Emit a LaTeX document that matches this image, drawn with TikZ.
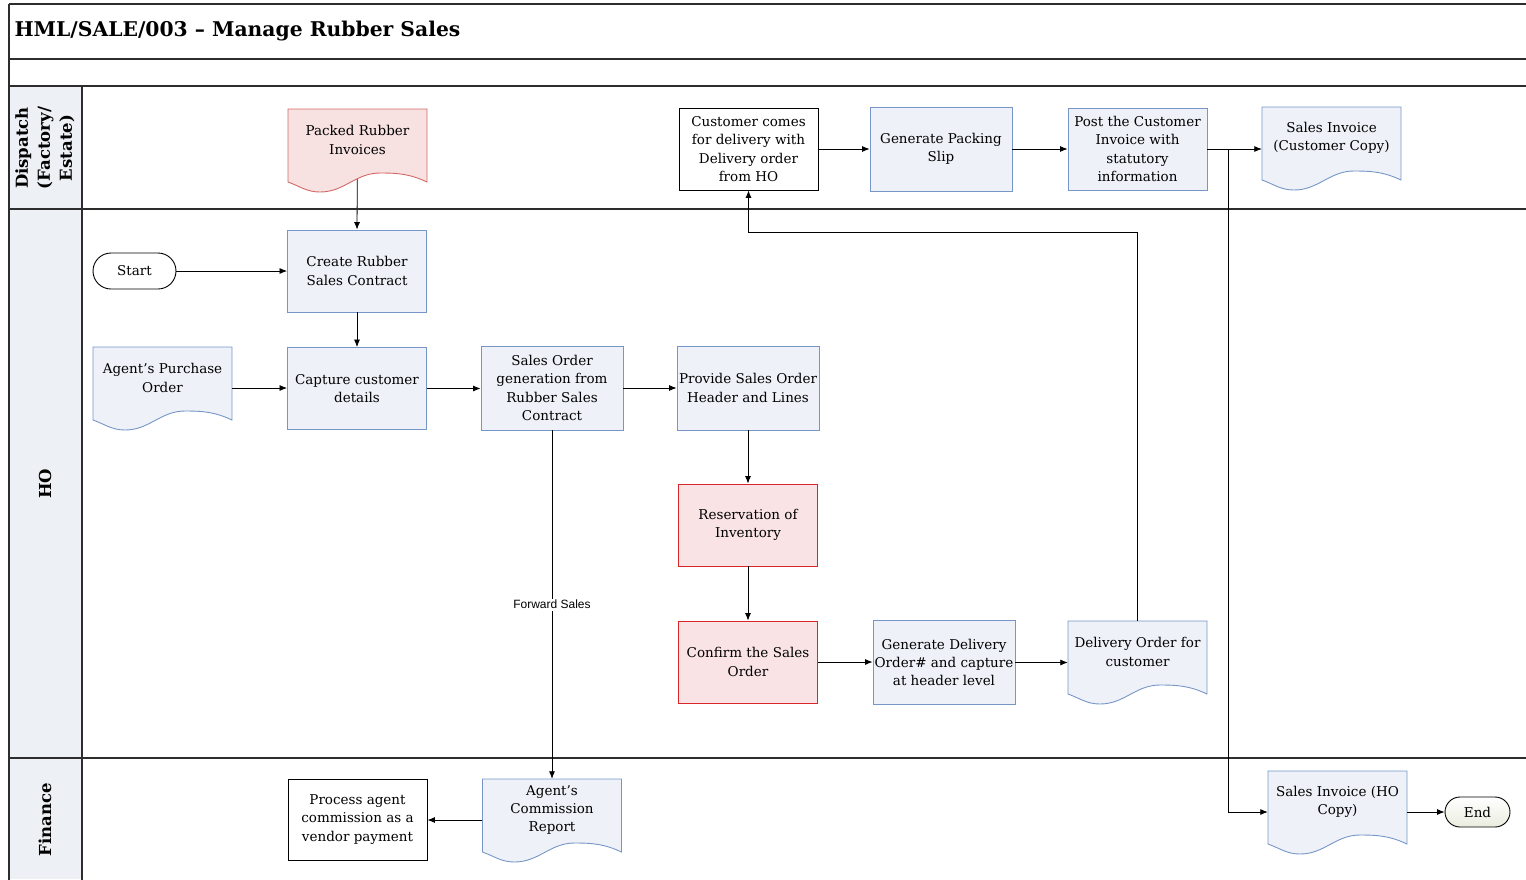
\documentclass[tikz,border=0pt]{standalone}
\usepackage{fontspec}
\setmainfont{DejaVu Serif}
\newfontfamily\labelsans{Liberation Sans}
\usetikzlibrary{arrows.meta,calc}
\pgfdeclarelayer{bg}
\pgfsetlayers{bg,main}

\definecolor{bluefill}{RGB}{238,242,248}
\definecolor{blueedge}{RGB}{118,150,200}
\definecolor{redfill}{RGB}{249,227,229}
\definecolor{rededge}{RGB}{218,38,42}
\definecolor{pinkfill}{RGB}{247,225,225}
\definecolor{pinkedge}{RGB}{212,104,104}
\definecolor{lanefill}{RGB}{237,240,245}
\definecolor{frameline}{RGB}{45,45,45}
\definecolor{endfill}{RGB}{234,236,222}

\tikzset{
  every node/.style={font=\fontsize{13.5}{18.3}\selectfont, align=center},
  box/.style={rectangle, inner sep=1pt, minimum width=139pt, minimum height=82pt, line width=0.9pt},
  bluebox/.style={box, draw=blueedge, fill=bluefill},
  redbox/.style={box, draw=rededge, fill=redfill},
  plainbox/.style={box, draw=black, fill=white},
  docframe/.style={rectangle, inner sep=0pt, minimum width=139pt, minimum height=82pt},
  doctext/.style={inner sep=0pt},
  bluedoc/.style={draw=blueedge, fill=bluefill, line width=0.9pt},
  pinkdoc/.style={draw=pinkedge, fill=pinkfill, line width=0.9pt},
  terminal/.style={rectangle, draw=black, line width=0.9pt, inner sep=1pt},
  lanetitle/.style={rotate=90, font=\bfseries\fontsize{16.5}{22}\selectfont},
  lanerule/.style={draw=frameline, line width=1.2pt},
  conn/.style={draw=black, line width=0.8pt, -{Latex[length=7.5pt,width=6pt]}},
}

% document symbol: rectangle with a wavy lower edge, text in its upper part
\newcommand\docnode[5]{%
  \node[docframe] (#1) at ({#2+69.5},{#3+41}) {};
  \path[#4] (#2,#3) -- ++(139,0) -- ++(0,73)
    to[out=155,in=0] ++(-47,-9)
    to[out=180,in=0] ++(-60,19)
    to[out=180,in=-20] ++(-32,-10) -- cycle;
  \node[doctext] (#1-t) at ({#2+69.5},{#3+31}) {#5};
}

\begin{document}
\begin{tikzpicture}[x=1pt,y=-1pt]
\useasboundingbox (0,0) rectangle (1526,879);

% swimlane frame
\fill[lanefill] (9,86) rectangle (82,879);
\draw[lanerule] (9,4) -- (1527,4);
\draw[lanerule] (9,59) -- (1527,59);
\draw[lanerule] (9,86) -- (1527,86);
\draw[lanerule] (9,209) -- (1527,209);
\draw[lanerule] (9,758) -- (1527,758);
\draw[lanerule] (9,4) -- (9,880);
\draw[lanerule] (82,86) -- (82,880);

\node[anchor=west, font=\bfseries\fontsize{20.3}{22}\selectfont] (title) at (11,31) {HML/SALE/003 – Manage Rubber Sales};

\node[lanetitle] (lanedispatch) at (45,148) {Dispatch\\(Factory/\\Estate)};
\node[lanetitle] (laneho) at (45,484) {HO};
\node[lanetitle] (lanefinance) at (45,820) {Finance};

% Dispatch lane
\docnode{packed}{288}{109}{pinkdoc}{Packed Rubber\\Invoices}
\node[plainbox] (cust) at (748.5,149) {Customer comes\\for delivery with\\Delivery order\\from HO};
\node[bluebox, minimum width=142pt, minimum height=84pt] (genpack) at (941,149) {Generate Packing\\Slip};
\node[bluebox] (post) at (1137.5,149) {Post the Customer\\Invoice with\\statutory\\information};
\docnode{sicc}{1262}{107}{bluedoc}{Sales Invoice\\(Customer Copy)}

% HO lane
\node[terminal, fill=white, rounded corners=18pt, minimum width=83pt, minimum height=36pt] (start) at (134.5,271) {Start};
\node[bluebox] (create) at (357,271) {Create Rubber\\Sales Contract};
\docnode{apo}{93}{347}{bluedoc}{Agent’s Purchase\\Order}
\node[bluebox] (capture) at (357,388.5) {Capture customer\\details};
\node[bluebox, minimum width=142pt, minimum height=84pt] (sogen) at (552,388) {Sales Order\\generation from\\Rubber Sales\\Contract};
\node[bluebox, minimum width=142pt, minimum height=84pt] (provide) at (748,388) {Provide Sales Order\\Header and Lines};
\node[redbox] (reserve) at (748,525) {Reservation of\\Inventory};
\node[redbox] (confirm) at (748,662) {Confirm the Sales\\Order};
\node[bluebox, minimum width=142pt, minimum height=84pt] (gendel) at (944,662.5) {Generate Delivery\\Order\# and capture\\at header level};
\docnode{delord}{1068}{621}{bluedoc}{Delivery Order for\\customer}

% Finance lane
\node[plainbox, minimum height=81pt] (process) at (357.5,819.5) {Process agent\\commission as a\\vendor payment};
\docnode{acr}{482.5}{779}{bluedoc}{Agent’s\\Commission\\Report}
\docnode{siho}{1268}{771}{bluedoc}{Sales Invoice (HO\\Copy)}
\node[terminal, top color=white, bottom color=endfill, rounded corners=15pt, minimum width=65pt, minimum height=30pt] (end) at (1477.5,812) {End};

% connectors
\begin{pgfonlayer}{bg}
\draw[conn] (packed.center) -- (create.north);
\end{pgfonlayer}
\draw[conn] (start.east) -- (create.west |- start.east);
\draw[conn] (create.south) -- (capture.north);
\draw[conn] (apo.east) -- (capture.west |- apo.east);
\draw[conn] (capture.east) -- (sogen.west |- capture.east);
\draw[conn] (sogen.east) -- (provide.west);
\draw[conn] (provide.south) -- (reserve.north);
\draw[conn] (reserve.south) -- (confirm.north);
\draw[conn] (confirm.east) -- (gendel.west |- confirm.east);
\draw[conn] (gendel.east) -- (delord.west |- gendel.east);
\draw[conn] (delord.north) -- ++(0,-388) -| (cust.south);
\draw[conn] (cust.east) -- (genpack.west |- cust.east);
\draw[conn] (genpack.east) -- (post.west |- genpack.east);
\draw[conn] (post.east) -- (sicc.west |- post.east);
\coordinate (split) at (1228,149);
\draw[conn] (split) |- (siho.west);
\draw[conn] (siho.east) -- (end.west |- siho.east);
\draw[conn] (sogen.south) -- node[fill=white, inner sep=1.5pt, font=\labelsans\fontsize{12}{14}\selectfont] (fwd) {Forward Sales} (acr.north);
\draw[conn] (acr.west) -- (process.east |- acr.west);

\end{tikzpicture}
\end{document}
